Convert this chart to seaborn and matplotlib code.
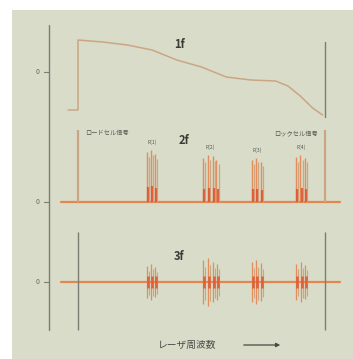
import numpy as np
import pandas as pd
import matplotlib
matplotlib.use('Agg')
import matplotlib.pyplot as plt
import seaborn as sns

sns.set_theme(style='white')
plt.rcParams['font.family'] = ['Noto Sans CJK JP', 'DejaVu Sans']

# %% data (frequency in arbitrary units, 0 = left marker, 100 = right marker)
f1_freq = [-4, 0, 0, 10, 20, 30, 40, 50, 60, 70, 80, 85, 90, 95, 99]
f1_sig = [-38, -38, 32, 30, 27, 22, 12, 5, -5, -8, -9, -14, -24, -36, -43]

peak_freq = [28.3, 30.0, 31.6, 51.0, 53.0, 55.0, 56.5, 70.9, 72.5, 74.5, 88.7, 90.5, 92.3]
peak_2f = [50, 52, 48, 44, 47, 46, 42, 42, 44, 40, 45, 47, 44]
peak_3f = [16, 18, 15, 22, 24, 20, 18, 20, 22, 19, 18, 20, 17]

marker_freq = [0, 100]
peak_labels = ['R(1)', 'R(2)', 'R(3)', 'R(4)']
peak_label_freq = [30, 53.5, 72.5, 90.5]
cell_labels = ['ロードセル信号', 'ロックセル信号']

# vertical offsets of the three traces
OFF_1F, OFF_2F, OFF_3F = 287, 157, 77

BG = '#d8dcc9'
TAN = '#cba683'
ORANGE = '#e5854f'
RED = '#e0522c'
GRAY = '#7c7c72'

# %%
fig = plt.figure(figsize=(3.53, 3.59), dpi=100, facecolor='white')
ax = fig.add_axes([12 / 353, 0, 1 - 12 / 353, 349 / 359])
ax.set_facecolor(BG)
px = 2.47
ax.set_xlim((12 - 78) / px, (353 - 78) / px)
ax.set_ylim(0, 349)
for s in ax.spines.values():
    s.set_visible(False)
ax.set_xticks([])
ax.set_yticks([])

# y axis line and zero ticks
ax.plot([(49 - 78) / px] * 2, [29, 334], color=GRAY, lw=1.0)
for off in [OFF_1F, OFF_2F, OFF_3F]:
    ax.plot([(44 - 78) / px, (49 - 78) / px], [off, off], color=GRAY, lw=0.8)
    ax.text((38 - 78) / px, off, '0', fontsize=5, color='#6a6a60', ha='center', va='center')

# 1f
df1 = pd.DataFrame({'freq': f1_freq, 'sig': np.array(f1_sig) + OFF_1F})
sns.lineplot(data=df1, x='freq', y='sig', sort=False, estimator=None,
             color=TAN, lw=1.1, ax=ax)
ax.plot([100, 100], [OFF_1F - 45, OFF_1F + 30], color=GRAY, lw=1.0)
ax.text(41, OFF_1F + 28, '1f', fontsize=8, fontweight='bold', color='#3a3a34', ha='center', va='center')

# 2f
ax.plot([-7, 106], [OFF_2F, OFF_2F], color=ORANGE, lw=1.6)
ax.vlines(marker_freq, OFF_2F, OFF_2F + 72, color=TAN, lw=1.6)
pf = np.array(peak_freq)
ax.vlines(pf - 0.5, OFF_2F, OFF_2F + np.array(peak_2f), color=ORANGE, lw=1.0, alpha=0.9)
ax.vlines(pf + 0.5, OFF_2F, OFF_2F + np.array(peak_2f) * 0.9, color=TAN, lw=0.9)
ax.vlines(pf, OFF_2F, OFF_2F + np.array(peak_2f) * 0.3, color=RED, lw=1.6, alpha=0.85)
ax.text(43, OFF_2F + 62, '2f', fontsize=8, fontweight='bold', color='#3a3a34', ha='center', va='center')
ax.text(3, OFF_2F + 69, cell_labels[0], fontsize=4.5, color='#55554d', ha='left', va='center')
ax.text(97, OFF_2F + 69, cell_labels[1], fontsize=4.5, color='#55554d', ha='right', va='center')
for lab, x, h in zip(peak_labels, peak_label_freq, [53, 48, 45, 48]):
    ax.text(x, OFF_2F + h + 4, lab, fontsize=3.5, color='#55554d', ha='center', va='bottom')

# 3f
ax.plot([-7, 106], [OFF_3F, OFF_3F], color=ORANGE, lw=1.6)
ax.vlines(marker_freq, OFF_3F - 48, OFF_3F + 50, color=GRAY, lw=1.0)
ax.vlines(pf - 0.4, OFF_3F - np.array(peak_3f), OFF_3F + np.array(peak_3f), color=ORANGE, lw=0.9, alpha=0.9)
ax.vlines(pf + 0.5, OFF_3F - np.array(peak_3f) * 0.8, OFF_3F + np.array(peak_3f) * 0.7, color=TAN, lw=0.8)
ax.vlines(pf, OFF_3F - 6, OFF_3F + 6, color=RED, lw=1.8, alpha=0.85)
ax.text(41, OFF_3F + 25, '3f', fontsize=8, fontweight='bold', color='#3a3a34', ha='center', va='center')

# x label with arrow
ax.text(56, 14, 'レーザ周波数', fontsize=7, color='#4a4a44', ha='right', va='center')
ax.annotate('', xy=(83, 14), xytext=(66, 14),
            arrowprops=dict(arrowstyle='-|>', color='#4a4a44', lw=0.9, mutation_scale=6))

plt.savefig('out.png', dpi=100, facecolor='white')
